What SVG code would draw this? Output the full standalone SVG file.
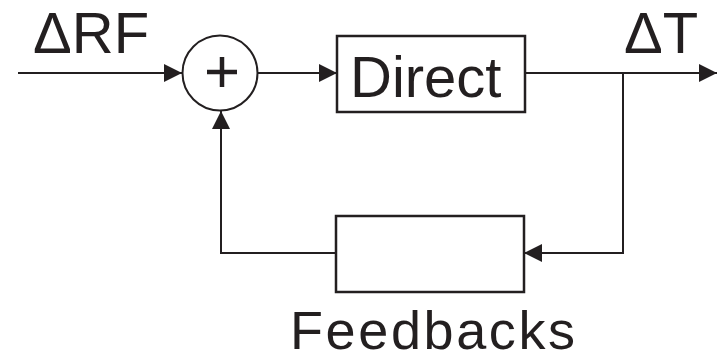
<svg xmlns="http://www.w3.org/2000/svg" width="724" height="361" viewBox="0 0 724 361">
<style>
.ln{fill:none;stroke:#231f20;stroke-width:2}
.bx{fill:#fff;stroke:#231f20;stroke-width:2.5}
.t{font-family:"Liberation Sans",Arial,sans-serif;font-size:58px;fill:#231f20}
</style>
<defs>
<marker id="ah" viewBox="0 0 18 18" refX="18" refY="9" markerWidth="18" markerHeight="18" markerUnits="userSpaceOnUse" orient="auto">
<path d="M0,0 L18,9 L0,18 Z" fill="#231f20"/>
</marker>
</defs>
<g id="connectors">
<line class="ln" x1="18" y1="73" x2="182" y2="73" marker-end="url(#ah)"/>
<line class="ln" x1="258" y1="73" x2="337" y2="73" marker-end="url(#ah)"/>
<line class="ln" x1="525" y1="73" x2="717" y2="73" marker-end="url(#ah)"/>
<polyline class="ln" points="623,73 623,253 524,253" marker-end="url(#ah)"/>
<polyline class="ln" points="336,253 221,253 221,111" marker-end="url(#ah)"/>
</g>
<g id="sum">
<circle class="ln" cx="220" cy="73" r="37.5"/>
<line x1="207" y1="72" x2="237" y2="72" stroke="#231f20" stroke-width="4.5"/>
<line x1="222" y1="57" x2="222" y2="87" stroke="#231f20" stroke-width="4.5"/>
</g>
<g id="direct">
<rect class="bx" x="337" y="36" width="188" height="76"/>
<text class="t" x="350" y="97">Direct</text>
</g>
<g id="feedbacks">
<rect class="bx" x="336" y="216" width="188" height="76"/>
<text class="t" x="290" y="349" style="font-size:54px" textLength="285" lengthAdjust="spacing">Feedbacks</text>
</g>
<g id="labels">
<text class="t" x="33" y="53">ΔRF</text>
<text class="t" x="624" y="53">ΔT</text>
</g>
</svg>
